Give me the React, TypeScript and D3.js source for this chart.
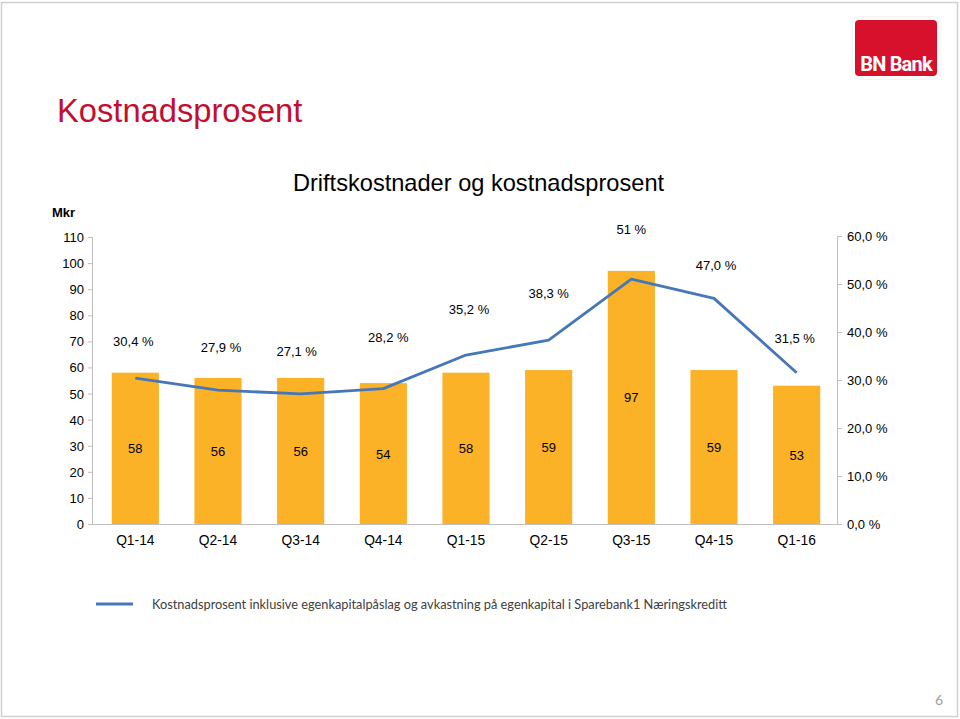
import React from "react";
import * as d3 from "d3";

const categories = ["Q1-14", "Q2-14", "Q3-14", "Q4-14", "Q1-15", "Q2-15", "Q3-15", "Q4-15", "Q1-16"];
const costs = [58, 56, 56, 54, 58, 59, 97, 59, 53];
const costPct = [30.4, 27.9, 27.1, 28.2, 35.2, 38.3, 51.0, 47.0, 31.5];
const pctLabels = ["30,4 %", "27,9 %", "27,1 %", "28,2 %", "35,2 %", "38,3 %", "51 %", "47,0 %", "31,5 %"];
const leftTicks = [0, 10, 20, 30, 40, 50, 60, 70, 80, 90, 100, 110];
const rightTicks = [0, 10, 20, 30, 40, 50, 60];
const rightTickLabels = ["0,0 %", "10,0 %", "20,0 %", "30,0 %", "40,0 %", "50,0 %", "60,0 %"];
const legendLabel = "Kostnadsprosent inklusive egenkapitalpåslag og avkastning på egenkapital  i Sparebank1 Næringskreditt";

// label placement tweaks (layout, not data)
const labelDx = [-2, 3, -4, 5, 3, 0, 0, 2, -2];
const labelDy = [-37, -43, -43, -52, -46, -47, -50, -33, -35];

const W = 960;
const H = 719;
const FONT = "'Liberation Sans', Arial, sans-serif";
const BAR = "#FBB226";
const LINE = "#4677B8";
const AXIS = "#BFBFBF";

export default function App() {
  const x = d3.scaleBand<string>().domain(categories).range([94, 838]).paddingInner(0.43).paddingOuter(0.215);
  const yL = d3.scaleLinear().domain([0, 110]).range([524, 237]);
  const yR = d3.scaleLinear().domain([0, 60]).range([524, 236]);
  const cx = (c: string) => (x(c) ?? 0) + x.bandwidth() / 2;
  const line = d3
    .line<number>()
    .x((_, i) => cx(categories[i]))
    .y((d) => yR(d));

  return (
    <svg width={W} height={H} style={{ position: "absolute", left: 0, top: 0, background: "#fff" }} fontFamily={FONT}>
      <rect x={1.5} y={2.5} width={956} height={714} fill="#fff" stroke="#D0D0D0" strokeWidth={1.5} />

      {/* Logo */}
      <rect x={852} y={17} width={88} height={62} rx={5} fill="#fff" stroke="#eee" />
      <rect x={855} y={20} width={82} height={56} rx={4} fill="#D7102B" />
      <text x={896} y={71} textAnchor="middle" fill="#fff" fontSize={20} fontWeight="bold" fontFamily="'Roboto', 'Liberation Sans Narrow', sans-serif" letterSpacing={-0.8}>
        BN Bank
      </text>

      <text x={57} y={122} fill="#C20E2F" fontSize={32.7}>
        Kostnadsprosent
      </text>

      <text x={478.5} y={191} textAnchor="middle" fill="#000" fontSize={23.6}>
        Driftskostnader og kostnadsprosent
      </text>

      <text x={52} y={217} fill="#000" fontSize={13} fontWeight="bold">
        Mkr
      </text>

      {/* bars */}
      {categories.map((c, i) => (
        <rect key={c} x={x(c)} y={yL(costs[i])} width={x.bandwidth()} height={yL(0) - yL(costs[i])} fill={BAR} />
      ))}
      {categories.map((c, i) => (
        <text key={c} x={cx(c)} y={(yL(costs[i]) + yL(0)) / 2 + 5} textAnchor="middle" fontSize={13} fill="#000">
          {costs[i]}
        </text>
      ))}

      {/* left axis */}
      <line x1={92.5} x2={92.5} y1={yL(110)} y2={yL(0)} stroke={AXIS} />
      {leftTicks.map((t) => (
        <g key={t}>
          <line x1={88} x2={92.5} y1={yL(t) + 0.5} y2={yL(t) + 0.5} stroke={AXIS} />
          <text x={84} y={yL(t) + 5} textAnchor="end" fontSize={13} fill="#000">
            {t}
          </text>
        </g>
      ))}

      {/* right axis */}
      <line x1={837.5} x2={837.5} y1={yR(60)} y2={yR(0)} stroke={AXIS} />
      {rightTicks.map((t, i) => (
        <g key={t}>
          <line x1={837.5} x2={842} y1={yR(t) + 0.5} y2={yR(t) + 0.5} stroke={AXIS} />
          <text x={847} y={yR(t) + 5} textAnchor="start" fontSize={13} fill="#000">
            {rightTickLabels[i]}
          </text>
        </g>
      ))}

      {/* bottom axis */}
      <line x1={92.5} x2={837.5} y1={524.5} y2={524.5} stroke={AXIS} />
      {categories.map((c) => (
        <text key={c} x={cx(c)} y={545} textAnchor="middle" fontSize={13.8} fill="#000">
          {c}
        </text>
      ))}

      {/* line */}
      <path d={line(costPct) ?? ""} fill="none" stroke={LINE} strokeWidth={2.8} strokeLinejoin="round" />
      {categories.map((c, i) => (
        <text key={c} x={cx(c) + labelDx[i]} y={yR(costPct[i]) + labelDy[i] + 5} textAnchor="middle" fontSize={13} fill="#000">
          {pctLabels[i]}
        </text>
      ))}

      {/* legend */}
      <line x1={96} x2={133} y1={604} y2={604} stroke={LINE} strokeWidth={3} />
      <text x={152} y={609} fontSize={13.5} fill="#404040" fontFamily="'Lato', 'Open Sans', sans-serif" textLength={575} lengthAdjust="spacingAndGlyphs">
        {legendLabel}
      </text>

      <text x={943} y={705} textAnchor="end" fontSize={14} fill="#A0A0A0" fontFamily="'Lato', sans-serif">
        6
      </text>
    </svg>
  );
}
